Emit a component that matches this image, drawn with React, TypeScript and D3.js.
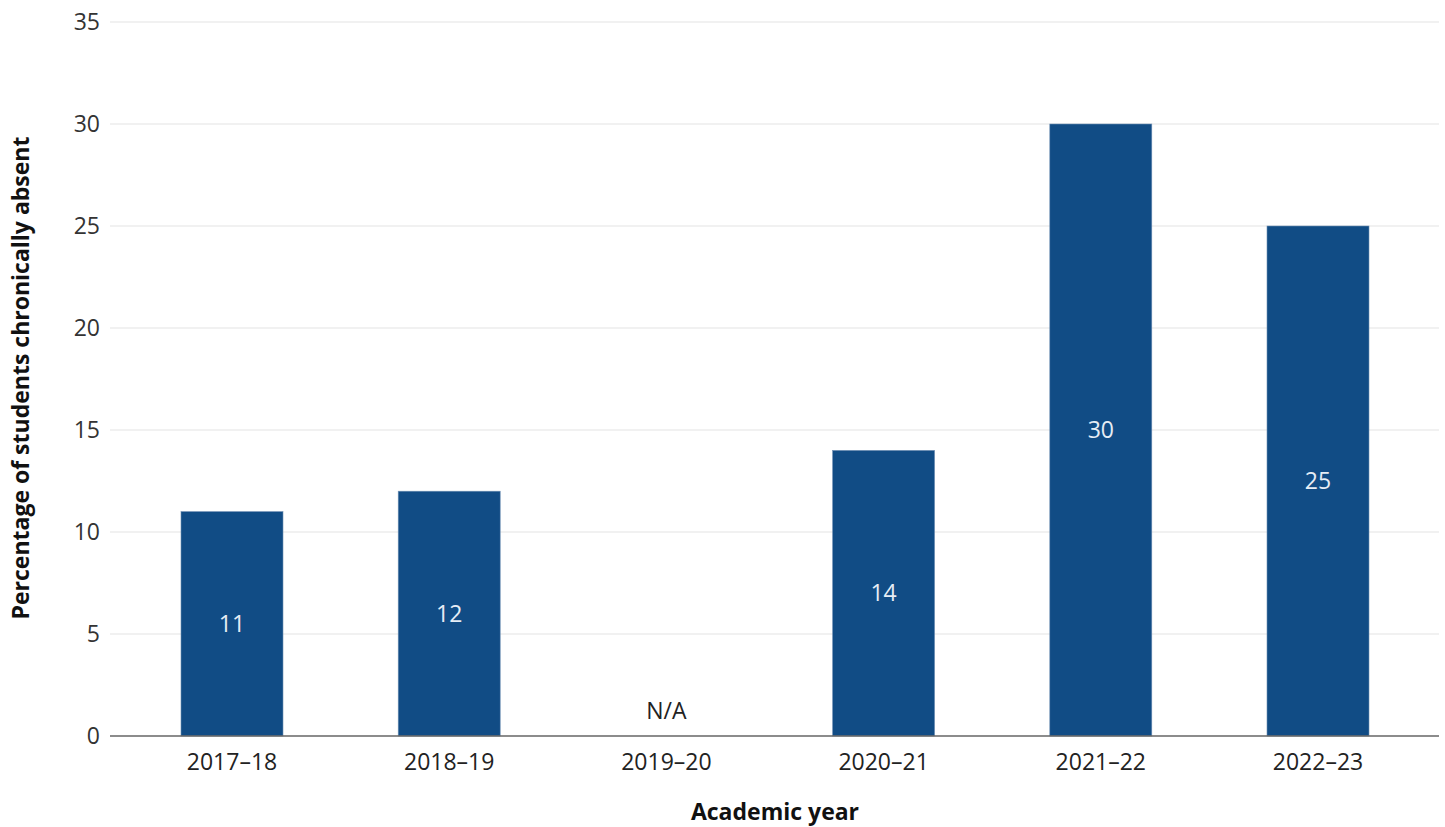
import React from "react";
import * as d3 from "d3";

// Chronic absence by academic year
const years = ["2017–18", "2018–19", "2019–20", "2020–21", "2021–22", "2022–23"];
const values: (number | null)[] = [11, 12, null, 14, 30, 25];
const yTicks = [0, 5, 10, 15, 20, 25, 30, 35];

const W = 1445;
const H = 827;
const plotLeft = 110;
const plotRight = 1439;
const plotTop = 22;
const plotBottom = 736;
const barWidth = 102;
const font = "'Open Sans', Lato, sans-serif";
const labelSize = 23;
const titleSize = 23;

export default function App() {
  const y = d3.scaleLinear().domain([0, 35]).range([plotBottom, plotTop]);
  const x = d3.scalePoint<string>().domain(years).range([232, 1318]);

  return (
    <svg
      width={W}
      height={H}
      style={{ position: "absolute", left: 0, top: 0, background: "#fff" }}
      fontFamily={font}
    >
      {/* gridlines and y tick labels */}
      {yTicks.map((t) => (
        <g key={t}>
          {t > 0 && (
            <line x1={plotLeft} x2={plotRight} y1={y(t)} y2={y(t)} stroke="#e3e3e3" strokeWidth={1.2} />
          )}
          <text x={100} y={y(t)} dy="0.35em" textAnchor="end" fontSize={labelSize} fill="#333">
            {t}
          </text>
        </g>
      ))}

      {/* bars */}
      {years.map((yr, i) => {
        const v = values[i];
        const cx = x(yr)!;
        if (v === null) {
          return (
            <text key={yr} x={cx} y={y(0) - 25} dy="0.35em" textAnchor="middle" fontSize={labelSize} fill="#222">
              N/A
            </text>
          );
        }
        return (
          <g key={yr}>
            <rect
              x={cx - barWidth / 2}
              y={y(v)}
              width={barWidth}
              height={y(0) - y(v)}
              fill="#114c85"
              stroke="#6f8fb3"
              strokeWidth={0.6}
            />
            <text
              x={cx}
              y={(y(v) + y(0)) / 2}
              dy="0.35em"
              textAnchor="middle"
              fontSize={labelSize}
              fill="#e6edf5"
            >
              {v}
            </text>
          </g>
        );
      })}

      {/* baseline */}
      <line x1={plotLeft} x2={plotRight} y1={plotBottom} y2={plotBottom} stroke="#666" strokeWidth={1.6} />

      {/* x tick labels */}
      {years.map((yr) => (
        <text key={yr} x={x(yr)!} y={762} dy="0.35em" textAnchor="middle" fontSize={labelSize} fill="#222">
          {yr}
        </text>
      ))}

      {/* axis titles */}
      <text x={775} y={812} dy="0.35em" textAnchor="middle" fontSize={titleSize} fontWeight={700} fill="#111">
        Academic year
      </text>
      <text
        transform={`translate(21, 378) rotate(-90)`}
        dy="0.35em"
        textAnchor="middle"
        fontSize={titleSize}
        fontWeight={700}
        fill="#111"
      >
        Percentage of students chronically absent
      </text>
    </svg>
  );
}
